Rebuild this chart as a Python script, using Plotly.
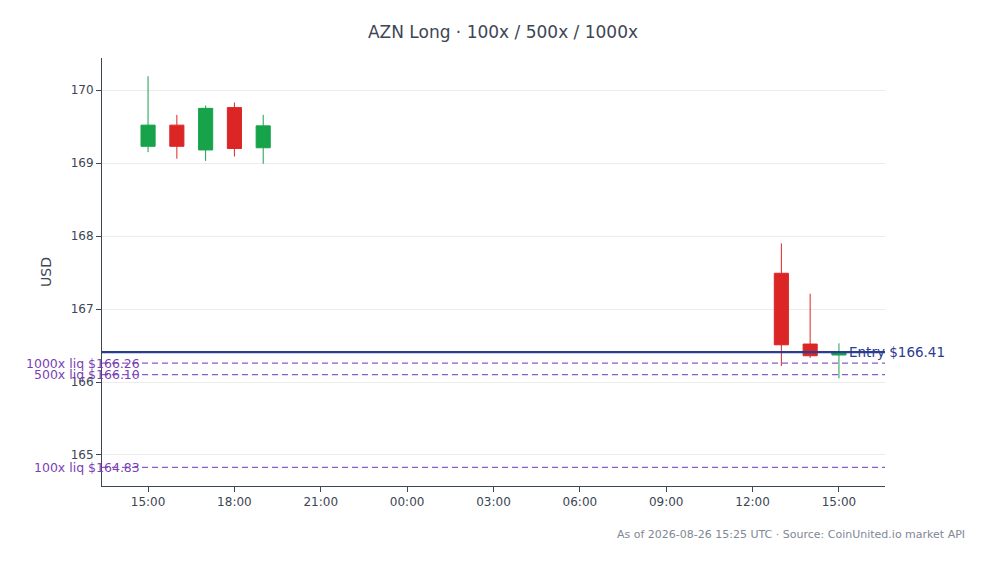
import plotly.graph_objects as go

times = ["2026-08-25 15:00", "2026-08-25 16:00", "2026-08-25 17:00", "2026-08-25 18:00", "2026-08-25 19:00",
         "2026-08-26 13:00", "2026-08-26 14:00", "2026-08-26 15:00"]
opens = [169.23, 169.52, 169.18, 169.76, 169.21, 167.49, 166.52, 166.37]
highs = [170.19, 169.66, 169.79, 169.83, 169.66, 167.90, 167.21, 166.53]
lows = [169.15, 169.06, 169.03, 169.09, 168.99, 166.22, 166.33, 166.05]
closes = [169.52, 169.23, 169.75, 169.20, 169.51, 166.51, 166.36, 166.41]
entry = 166.41
liq_labels = ["1000x liq $166.26", "500x liq $166.10", "100x liq $164.83"]
liq_values = [166.26, 166.10, 164.83]

fig = go.Figure(go.Candlestick(
    x=times, open=opens, high=highs, low=lows, close=closes,
    increasing=dict(line=dict(color="#16a34a", width=1), fillcolor="#16a34a"),
    decreasing=dict(line=dict(color="#dc2626", width=1), fillcolor="#dc2626"),
    showlegend=False))

fig.add_hline(y=entry, line=dict(color="#2b3d8f", width=2.2))
fig.add_annotation(x=1, xref="paper", y=entry, yref="y", text=f"Entry ${entry:.2f}",
                   showarrow=False, xanchor="right", yanchor="middle", xshift=62,
                   font=dict(color="#2b3d8f", size=13.5))
for lab, v in zip(liq_labels, liq_values):
    fig.add_hline(y=v, line=dict(color="#8b5cc6", width=1.3, dash="6px,4px"))
    fig.add_annotation(x=0, xref="paper", y=v, yref="y", text=lab, showarrow=False,
                       xanchor="right", yanchor="middle", xshift=40,
                       font=dict(color="#7a3fb5", size=12.5))

fig.add_annotation(x=1, xref="paper", y=-0.094, yref="paper", yanchor="top", xanchor="right",
                   xshift=82, showarrow=False,
                   text="As of 2026-08-26 15:25 UTC · Source: CoinUnited.io market API",
                   font=dict(color="#7f8896", size=11))

fig.update_layout(
    width=990, height=564, template="plotly_white",
    font=dict(family="DejaVu Sans", color="#3c4654", size=12),
    title=dict(text="AZN Long · 100x / 500x / 1000x", x=0.5, xanchor="center", y=0.968,
               font=dict(size=17, color="#3c4654"), automargin=False),
    margin=dict(l=94, r=113, t=50, b=86, autoexpand=False),
    plot_bgcolor="white",
    xaxis=dict(rangeslider=dict(visible=False), range=["2026-08-25 13:24", "2026-08-26 16:36"],
               dtick=3 * 3600 * 1000, tick0="2026-08-25 15:00", tickformat="%H:%M",
               showgrid=False, showline=True, linecolor="#3c4654", ticks="outside",
               tickcolor="#3c4654", ticklen=5, automargin=False),
    yaxis=dict(title="USD", range=[164.575, 170.44], dtick=1, showgrid=True,
               gridcolor="#ececec", showline=True, linecolor="#3c4654", ticks="outside",
               tickcolor="#3c4654", ticklen=5, zeroline=False, automargin=False),
)
fig.write_html("out.html")
